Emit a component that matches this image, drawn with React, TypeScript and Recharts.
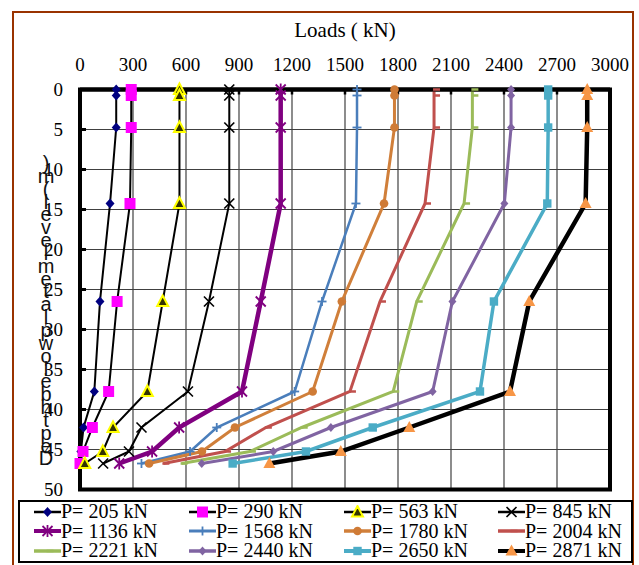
import React from 'react';
import { LineChart, Line, XAxis, YAxis, CartesianGrid, ReferenceArea } from 'recharts';

// depth of each reading (m), shared by every load case
const depths = [0, 0.75, 4.75, 14.25, 26.5, 37.75, 42.25, 45.25, 46.75];

const loadTicks = [0, 300, 600, 900, 1200, 1500, 1800, 2100, 2400, 2700, 3000];
const depthTicks = [0, 5, 10, 15, 20, 25, 30, 35, 40, 45, 50];

// axial load along the pile (kN) for each head load
const p205 = [205, 205, 205, 170, 113, 81, 20, 5, 0];
const p290 = [290, 290, 290, 283, 210, 162, 70, 17, 0];
const p563 = [563, 563, 563, 563, 468, 381, 187, 129, 27];
const p845 = [845, 845, 845, 845, 730, 611, 348, 277, 131];
const p1136 = [1136, 1136, 1136, 1136, 1023, 917, 561, 408, 222];
const p1568 = [1568, 1568, 1568, 1562, 1370, 1215, 774, 623, 348];
const p1780 = [1780, 1780, 1780, 1721, 1482, 1317, 877, 690, 391];
const p2004 = [2004, 2004, 2004, 1953, 1698, 1528, 1052, 821, 472];
const p2221 = [2221, 2221, 2221, 2174, 1906, 1773, 1255, 962, 575];
const p2440 = [2440, 2440, 2440, 2402, 2108, 1996, 1420, 1094, 689];
const p2650 = [2650, 2650, 2650, 2645, 2343, 2264, 1657, 1279, 864];
const p2871 = [2871, 2871, 2871, 2862, 2543, 2434, 1864, 1476, 1072];

const yLabelChars = [')', 'm', '(', 'l', 'e', 'v', 'e', 'l', 'm', 'e', 't', 'a', 'l', 'p', 'w', 'o', 'l', 'e', 'b', 'h', 't', 'p', 'e', 'D'];

const series = [
  { key: 'p205', name: 'P= 205 kN', values: p205, stroke: '#000', width: 2, marker: 'diamond', color: '#000080' },
  { key: 'p290', name: 'P= 290 kN', values: p290, stroke: '#000', width: 2, marker: 'square', color: '#FF00FF' },
  { key: 'p563', name: 'P= 563 kN', values: p563, stroke: '#000', width: 2, marker: 'ytri', color: '#FFFF00' },
  { key: 'p845', name: 'P= 845 kN', values: p845, stroke: '#000', width: 2, marker: 'x', color: '#000' },
  { key: 'p1136', name: 'P= 1136 kN', values: p1136, stroke: '#800080', width: 4.5, marker: 'star', color: '#800080' },
  { key: 'p1568', name: 'P= 1568 kN', values: p1568, stroke: '#4A7EBB', width: 2.5, marker: 'plus', color: '#4A7EBB' },
  { key: 'p1780', name: 'P= 1780 kN', values: p1780, stroke: '#D07F3A', width: 3, marker: 'circle', color: '#CF7B36' },
  { key: 'p2004', name: 'P= 2004 kN', values: p2004, stroke: '#C0504D', width: 3, marker: 'dash', color: '#C0504D' },
  { key: 'p2221', name: 'P= 2221 kN', values: p2221, stroke: '#9BBB59', width: 3, marker: 'dash', color: '#9BBB59' },
  { key: 'p2440', name: 'P= 2440 kN', values: p2440, stroke: '#8064A2', width: 3, marker: 'sdiamond', color: '#8064A2' },
  { key: 'p2650', name: 'P= 2650 kN', values: p2650, stroke: '#4BACC6', width: 3.5, marker: 'ssquare', color: '#4BACC6' },
  { key: 'p2871', name: 'P= 2871 kN', values: p2871, stroke: '#000', width: 4.5, marker: 'tri', color: '#F79646' },
];

const rows = depths.map((d, i) => {
  const row: Record<string, number> = { depth: d };
  series.forEach(s => { row[s.key] = s.values[i]; });
  return row;
});

function Marker({ kind, cx, cy, color }: { kind: string; cx: number; cy: number; color: string }) {
  switch (kind) {
    case 'diamond':
      return <polygon points={`${cx},${cy - 5} ${cx + 4.5},${cy} ${cx},${cy + 5} ${cx - 4.5},${cy}`} fill={color} />;
    case 'sdiamond':
      return <polygon points={`${cx},${cy - 4.5} ${cx + 4},${cy} ${cx},${cy + 4.5} ${cx - 4},${cy}`} fill={color} />;
    case 'square':
      return <rect x={cx - 5.5} y={cy - 5.5} width={11} height={11} fill={color} />;
    case 'ssquare':
      return <rect x={cx - 4.2} y={cy - 4.2} width={8.4} height={8.4} fill={color} />;
    case 'ytri':
      return <polygon points={`${cx},${cy - 6} ${cx + 5.5},${cy + 4.5} ${cx - 5.5},${cy + 4.5}`} fill="#333300" stroke={color} strokeWidth={2} />;
    case 'tri':
      return <polygon points={`${cx},${cy - 6.5} ${cx + 6},${cy + 4.5} ${cx - 6},${cy + 4.5}`} fill={color} />;
    case 'x':
      return (
        <g stroke={color} strokeWidth={1.6}>
          <line x1={cx - 5} y1={cy - 5} x2={cx + 5} y2={cy + 5} />
          <line x1={cx - 5} y1={cy + 5} x2={cx + 5} y2={cy - 5} />
        </g>
      );
    case 'star':
      return (
        <g stroke={color} strokeWidth={1.8}>
          <line x1={cx - 5} y1={cy - 5} x2={cx + 5} y2={cy + 5} />
          <line x1={cx - 5} y1={cy + 5} x2={cx + 5} y2={cy - 5} />
          <line x1={cx} y1={cy - 6} x2={cx} y2={cy + 6} />
        </g>
      );
    case 'plus':
      return (
        <g stroke={color} strokeWidth={1.8}>
          <line x1={cx - 4.5} y1={cy} x2={cx + 4.5} y2={cy} />
          <line x1={cx} y1={cy - 4.5} x2={cx} y2={cy + 4.5} />
        </g>
      );
    case 'circle':
      return <circle cx={cx} cy={cy} r={4.3} fill={color} />;
    case 'dash':
      return <line x1={cx - 1} y1={cy} x2={cx + 6} y2={cy} stroke={color} strokeWidth={2.5} />;
    default:
      return null;
  }
}

const serif = 'Times New Roman, Liberation Serif, serif';

export default function App() {
  return (
    <div style={{ position: 'absolute', left: 0, top: 0, width: 639, height: 565, overflow: 'hidden', background: '#fff', fontFamily: serif }}>
      <div style={{ position: 'absolute', left: 12, top: 11, width: 622, height: 600, border: '2px solid #993300', boxSizing: 'border-box' }} />
      <div style={{ position: 'absolute', left: 0, top: 0 }}>
        <LineChart layout="vertical" width={639} height={565} data={rows} style={{ fontFamily: serif }}
          margin={{ top: 0, right: 29, bottom: 75.5, left: 0 }}>
          <CartesianGrid stroke="#404040" strokeWidth={1.2} />
          <XAxis type="number" orientation="top" domain={[0, 3000]} ticks={loadTicks} height={89.5}
            tickSize={-5} tickMargin={23.5} interval={0}
            axisLine={{ stroke: '#000', strokeWidth: 4 }}
            tickLine={{ stroke: '#000', strokeWidth: 2.5 }}
            tick={{ fill: '#000', fontSize: 19, fontFamily: serif }}
            label={{ value: 'Loads ( kN)', position: 'insideTop', offset: 22, fill: '#000', fontSize: 21, fontFamily: serif }} />
          <YAxis type="number" dataKey="depth" domain={[0, 50]} ticks={depthTicks} width={80}
            tickSize={-6} tickMargin={23} interval={0}
            axisLine={{ stroke: '#000', strokeWidth: 4 }}
            tickLine={{ stroke: '#000', strokeWidth: 3 }}
            tick={{ fill: '#000', fontSize: 19, fontFamily: serif }} />
          <ReferenceArea x1={0} x2={3000} y1={0} y2={50} fill="none" stroke="#000" strokeWidth={4} ifOverflow="visible" />
          {series.map(s => (
            <Line key={s.key} type="linear" dataKey={s.key} name={s.name} stroke={s.stroke} strokeWidth={s.width}
              isAnimationActive={false}
              dot={(p: any) => <Marker key={`${s.key}-${p.index}`} kind={s.marker} cx={p.cx} cy={p.cy} color={s.color} />} />
          ))}
        </LineChart>
      </div>
      <div style={{ position: 'absolute', left: 31, top: 157, width: 30, fontFamily: 'Liberation Sans, Arial, sans-serif', fontSize: 20, color: '#111' }}>
        {yLabelChars.map((c, i) => (
          <div key={i} style={{ height: 12.85, lineHeight: '12.85px', textAlign: 'center' }}>{c}</div>
        ))}
      </div>
      <div style={{ position: 'absolute', left: 18, top: 500, width: 615, height: 63, border: '2px solid #000', boxSizing: 'border-box', background: '#fff' }} />
      <div style={{ position: 'absolute', left: 34, top: 502, width: 600, display: 'grid', gridTemplateColumns: '155px 155px 154px 154px', fontFamily: serif, fontSize: 20 }}>
        {series.map(s => (
          <div key={s.key} style={{ display: 'flex', alignItems: 'center', height: 19.5, whiteSpace: 'nowrap' }}>
            <svg width={27} height={14} style={{ flex: 'none' }}>
              <line x1={0} y1={7} x2={27} y2={7} stroke={s.stroke} strokeWidth={Math.min(s.width + 0.5, 4)} />
              <Marker kind={s.marker} cx={13.5} cy={7} color={s.color} />
            </svg>
            <span>{s.name}</span>
          </div>
        ))}
      </div>
    </div>
  );
}
